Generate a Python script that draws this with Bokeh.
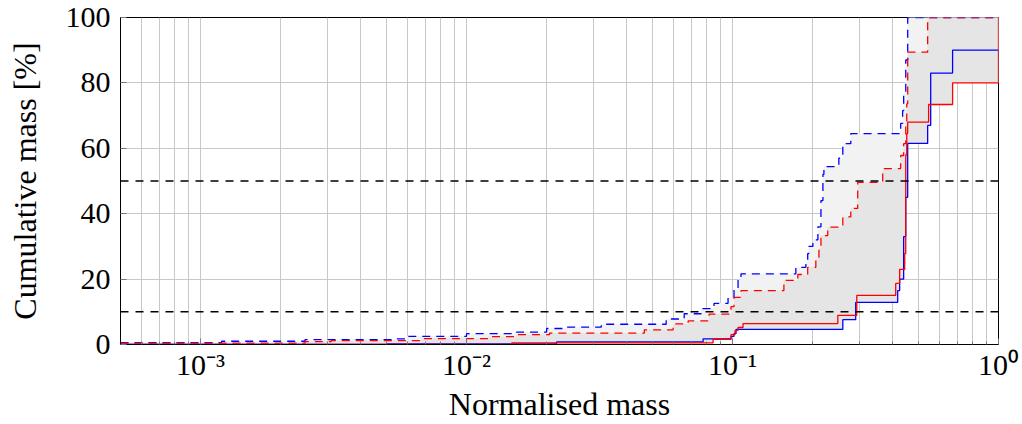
from bokeh.plotting import figure
from bokeh.models import Range1d, FixedTicker, CustomJSTickFormatter, Span
from bokeh.embed import file_html
from bokeh.resources import INLINE

# ---- data (step positions, normalised mass ; cumulative mass %) ----
blue_solid_x = [5e-4, 0.005, 0.0218, 0.0775, 0.0987, 0.1013, 0.1031, 0.2598, 0.2905, 0.4178,
                0.425, 0.440, 0.448, 0.4556, 0.5416, 0.556, 0.672, 1.0]
blue_solid_y = [0.0, 0.2, 0.8, 1.7, 2.5, 3.4, 4.6, 7.6, 12.9, 16.5,
                20.0, 33.0, 45.0, 61.5, 67.0, 83.0, 90.0, 90.0]

red_solid_x = [5e-4, 0.0148, 0.0845, 0.0987, 0.1022, 0.1049, 0.1095, 0.2488, 0.2932, 0.4107,
               0.425, 0.444, 0.448, 0.452, 0.4556, 0.546, 0.672, 1.0]
red_solid_y = [0.0, 0.5, 1.6, 3.0, 4.3, 5.2, 6.4, 8.9, 15.0, 18.7,
               23.0, 27.8, 58.0, 64.5, 68.0, 73.4, 80.0, 100.0]

blue_dash_x = [5e-4, 0.0012, 0.00247, 0.00546, 0.00598, 0.0100, 0.0154, 0.0200, 0.0237, 0.0321,
               0.0563, 0.0658, 0.0762, 0.0852, 0.0962, 0.1013, 0.1049, 0.1076, 0.173, 0.1887,
               0.1917, 0.1936, 0.2005, 0.2094, 0.215, 0.2187, 0.2206, 0.2510, 0.2598, 0.2784,
               0.4287, 0.436, 0.440, 0.448, 0.4556, 1.0]
blue_dash_y = [0.6, 1.0, 1.5, 1.7, 2.5, 3.3, 3.8, 4.9, 5.3, 6.2,
               7.8, 9.4, 11.0, 12.6, 14.3, 17.0, 19.8, 21.6, 23.6, 25.0,
               27.8, 30.0, 32.0, 36.0, 44.0, 52.0, 54.4, 57.0, 61.4, 64.5,
               67.6, 71.5, 76.8, 87.0, 100.0, 100.0]

red_dash_x = [5e-4, 0.00247, 0.0031, 0.00678, 0.0121, 0.0154, 0.0205, 0.0466, 0.0598, 0.0681,
              0.0817, 0.0987, 0.1013, 0.1076, 0.156, 0.176, 0.1917, 0.2057, 0.2113, 0.215,
              0.228, 0.2598, 0.2784, 0.2956, 0.367, 0.4287, 0.440, 0.448, 0.452, 0.4556,
              0.5416, 1.0]
red_dash_y = [0.4, 0.9, 1.2, 1.8, 2.4, 3.0, 3.5, 4.5, 6.3, 7.2,
              9.3, 11.6, 14.4, 16.5, 19.6, 21.4, 23.6, 26.2, 29.4, 33.3,
              35.9, 39.0, 41.6, 49.6, 53.8, 57.8, 61.4, 68.0, 73.6, 89.4,
              100.0, 100.0]

ref_levels = [10, 50]
y_ticks = [0, 20, 40, 60, 80, 100]
x_ticks = [1e-3, 1e-2, 1e-1, 1.0]

FONT = "Liberation Serif"


def step_path(xs, ys):
    px, py = [], []
    for i in range(len(xs)):
        if i > 0:
            px.append(xs[i]); py.append(ys[i - 1])
        px.append(xs[i]); py.append(ys[i])
    return px, py


def band(upper, lower):
    ux, uy = step_path(*upper)
    lx, ly = step_path(*lower)
    return ux + lx[::-1], uy + ly[::-1]


p = figure(width=1022, height=424, x_axis_type="log",
           x_range=Range1d(5e-4, 1.0), y_range=Range1d(0, 100),
           output_backend="svg", toolbar_location=None,
           min_border_left=120, min_border_right=24, min_border_top=17, min_border_bottom=80)

# fills
for lower in [(blue_solid_x, blue_solid_y), (red_solid_x, red_solid_y)]:
    bx, by = band((blue_dash_x, blue_dash_y), lower)
    p.patch(bx, by, fill_color="#f2f2f2", line_color=None)
for lower in [(blue_solid_x, blue_solid_y), (red_solid_x, red_solid_y)]:
    bx, by = band((red_dash_x, red_dash_y), lower)
    p.patch(bx, by, fill_color="#e5e5e5", line_color=None)

for lv in ref_levels:
    p.add_layout(Span(location=lv, dimension="width", line_color="black",
                      line_width=1.4, line_dash="8 7"))

p.step(blue_dash_x, blue_dash_y, mode="after", line_color="#0000ff", line_width=1.3, line_dash="8 6")
p.step(red_dash_x, red_dash_y, mode="after", line_color="#ff0000", line_width=1.3, line_dash="8 6")
p.step(blue_solid_x, blue_solid_y, mode="after", line_color="#0000ff", line_width=1.3)
p.step(red_solid_x, red_solid_y, mode="after", line_color="#ff0000", line_width=1.3)

# axes styling
minor = []
for e in range(-4, 0):
    for m in range(2, 10):
        v = m * 10 ** e
        if 5e-4 <= v <= 1.0:
            minor.append(v)
p.xaxis.ticker = FixedTicker(ticks=x_ticks, minor_ticks=minor)
p.xaxis.formatter = CustomJSTickFormatter(code="""
const e = Math.round(Math.log10(tick));
const sup = {'-':'\u207b','0':'\u2070','1':'\u00b9','2':'\u00b2','3':'\u00b3','4':'\u2074'};
return '10' + String(e).split('').map(c => sup[c]).join('');
""")
p.yaxis.ticker = FixedTicker(ticks=y_ticks)

p.xgrid.grid_line_color = "#c8c8c8"
p.xgrid.minor_grid_line_color = "#c8c8c8"
p.ygrid.grid_line_color = "#c8c8c8"

for ax in (p.xaxis[0], p.yaxis[0]):
    ax.axis_line_color = "black"
    ax.major_tick_in = 6
    ax.major_tick_out = 0
    ax.minor_tick_in = 3
    ax.minor_tick_out = 0
    ax.major_tick_line_color = "#777777"
    ax.minor_tick_line_color = "#777777"
    ax.major_label_text_font = FONT
    ax.major_label_text_font_size = "30px"
    ax.major_label_text_color = "black"
    ax.axis_label_text_font = FONT
    ax.axis_label_text_font_size = "32px"
    ax.axis_label_text_font_style = "normal"
    ax.axis_label_text_color = "black"

p.yaxis.minor_tick_line_color = None
p.xaxis.axis_label = "Normalised mass"
p.yaxis.axis_label = "Cumulative mass [%]"
p.xaxis.major_label_standoff = 3
p.xaxis.axis_label_standoff = 2
p.yaxis.major_label_standoff = 10
p.yaxis.axis_label_standoff = 20

p.outline_line_color = "black"
p.outline_line_width = 1
p.outline_line_alpha = 1

open("out.html", "w").write(file_html(p, INLINE))
